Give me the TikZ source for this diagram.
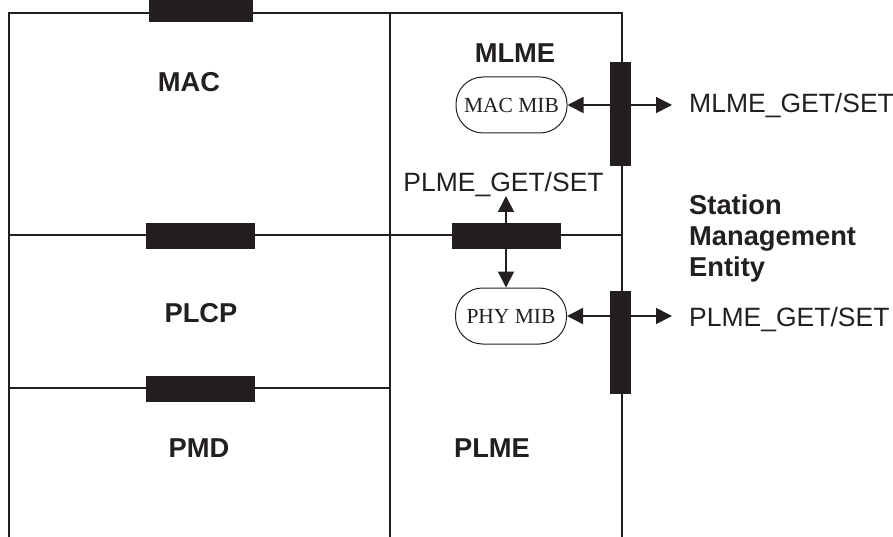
\documentclass[tikz,border=0pt]{standalone}
\usepackage{fontspec}
\setmainfont{Liberation Sans}
\newfontfamily\serifmib{Liberation Serif}
\usetikzlibrary{arrows.meta}
\definecolor{ink}{RGB}{35,31,32}
\begin{document}
\begin{tikzpicture}[x=1pt,y=-1pt,
  line/.style={draw=ink, line width=1.7pt},
  hbar/.style={fill=ink, inner sep=0, minimum width=109pt, minimum height=26pt},
  vbar/.style={fill=ink, inner sep=0, minimum width=21pt, minimum height=104pt},
  layer/.style={font=\fontsize{27.3}{31}\selectfont\bfseries, text=ink, inner sep=0},
  sig/.style={font=\fontsize{26.5}{31}\selectfont, text=ink, inner sep=0},
  mib/.style={draw=ink, line width=1pt, rounded corners=27pt, minimum width=111pt,
    minimum height=56pt, inner sep=0, font=\serifmib\fontsize{21.5}{24}\selectfont, text=ink},
  tip/.tip={Triangle[length=16pt,width=16pt]},
  arr/.style={line, -tip},
  darr/.style={line, tip-tip},
]
\useasboundingbox (0,0) rectangle (893,537);
% frame lines
\coordinate (tl) at (9,13);
\coordinate (tm) at (390,13);
\coordinate (tr) at (622,13);
\coordinate (bl) at (9,537);
\coordinate (bm) at (390,537);
\coordinate (br) at (622,537);
\coordinate (ml) at (9,235);
\coordinate (mr) at (622,235);
\coordinate (ll) at (9,388);
\coordinate (lm) at (390,388);
\draw[line] (bl) -- (tl) -- (tr) -- (br);
\draw[line] (tm) -- (bm);
\draw[line] (ml) -- (mr);
\draw[line] (ll) -- (lm);
% MIB boxes
\node[mib] (macmib) at (511.5,105) {MAC MIB};
\node[mib] (phymib) at (511,316) {PHY MIB};
% arrows
\coordinate (mlmeend) at (672,105);
\coordinate (plmeend) at (672,316);
\coordinate (uptip) at (506,196);
\draw[darr] (macmib.east) -- (mlmeend);
\draw[darr] (phymib.east) -- (plmeend);
% bars
\node[hbar, minimum width=104pt, minimum height=22pt] (b1) at (201,11) {};
\node[hbar] (b2) at (200.5,236) {};
\node[hbar] (b3) at (200.5,389) {};
\node[hbar] (b4) at (506,236) {};
\node[vbar] (b5) at (620.5,114) {};
\node[vbar, minimum height=103pt] (b6) at (620.5,342.5) {};
\draw[arr] (b4.north) -- (uptip);
\draw[arr] (b4.south) -- (b4.south |- phymib.north);
% layer labels
\node[layer, anchor=base] (mac) at (189,92) {MAC};
\node[layer, anchor=base] (mlme) at (515,63) {MLME};
\node[layer, anchor=base] (plcp) at (201,322) {PLCP};
\node[layer, anchor=base] (pmd) at (199,457) {PMD};
\node[layer, anchor=base] (plme) at (492,457) {PLME};
\node[layer, anchor=base west, align=left] (sme) at (689,276) {Station\\Management\\Entity};
% signal labels
\node[sig, anchor=base west] (mlmeget) at (689,112.7) {MLME\_GET/SET};
\node[sig, anchor=base west] (plmeget) at (689,326) {PLME\_GET/SET};
\node[sig, anchor=base] (plmemid) at (503.5,192) {PLME\_GET/SET};
\end{tikzpicture}
\end{document}
